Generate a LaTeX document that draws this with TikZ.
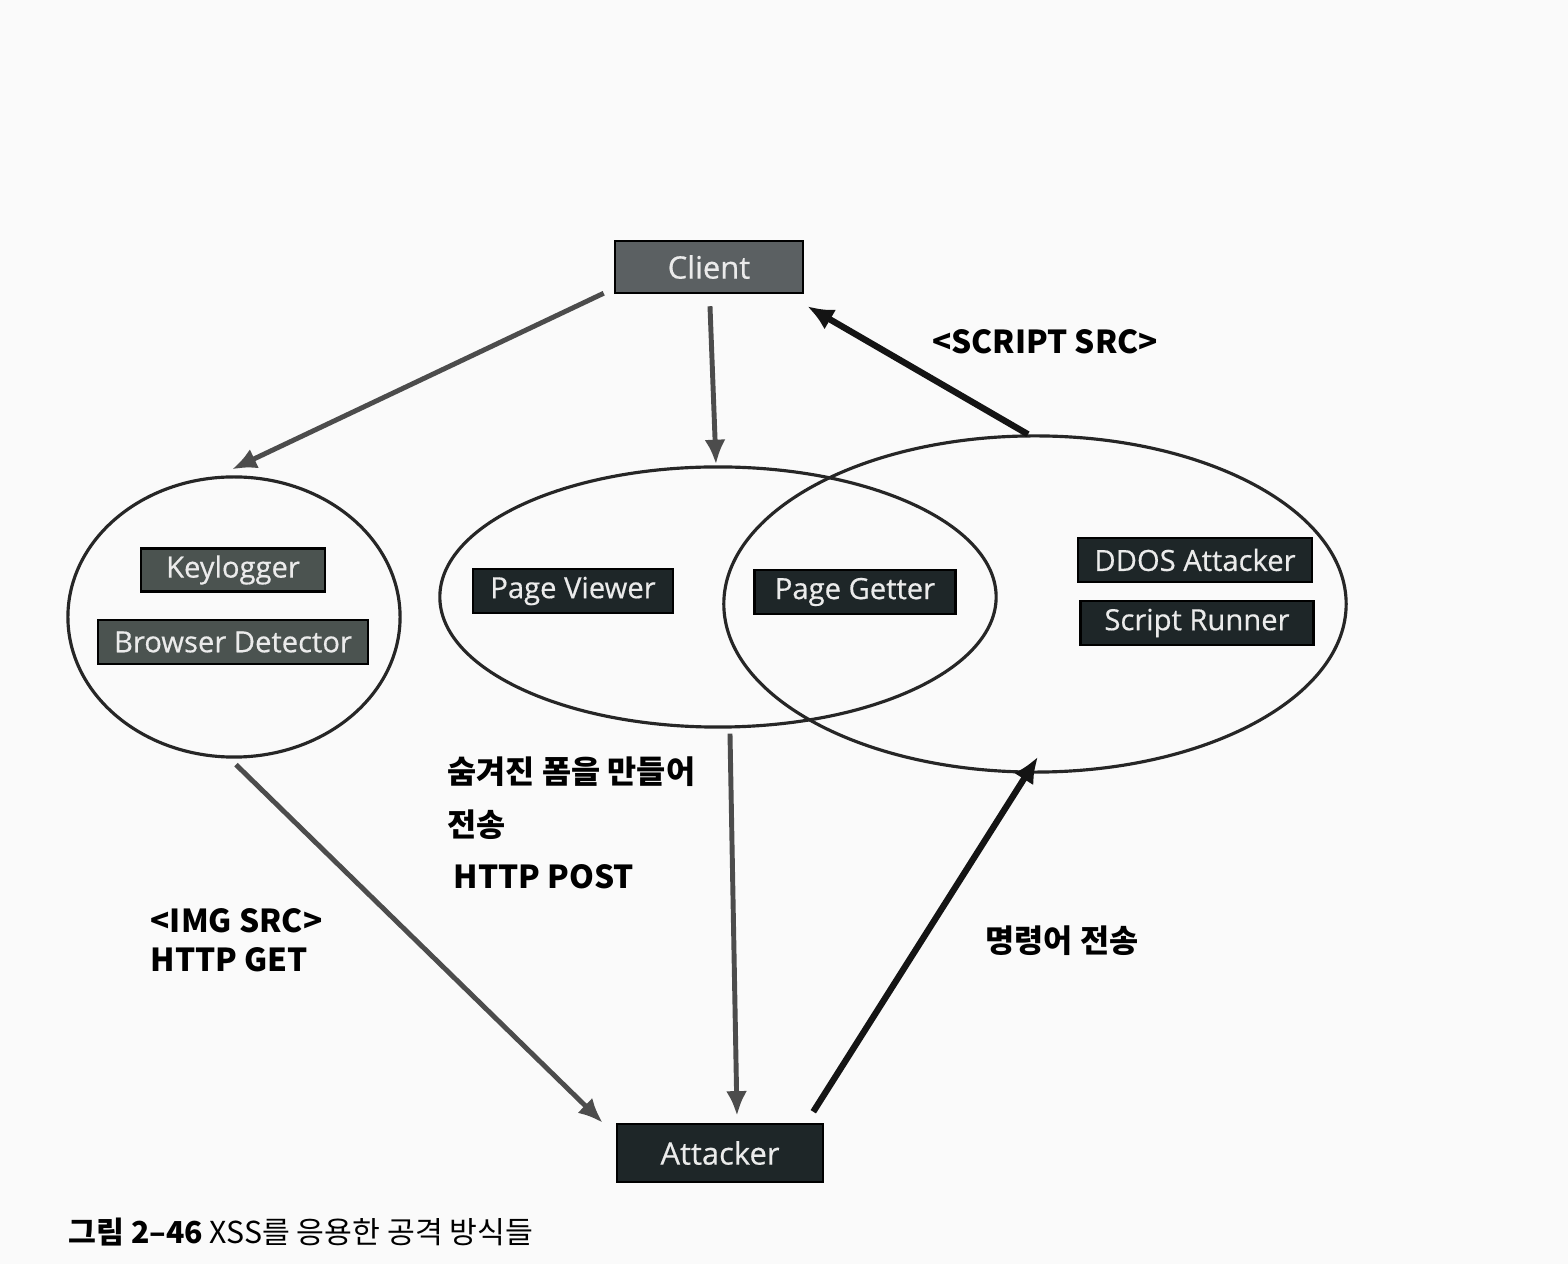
\documentclass[tikz,border=0pt]{standalone}
\usepackage{fontspec}
\setmainfont{Noto Sans CJK KR}
\newfontfamily\boxfont{Open Sans}[FakeBold=0.5]
\usetikzlibrary{arrows.meta,shapes.geometric,calc}
\definecolor{clientgray}{HTML}{5B6062}
\definecolor{modgray}{HTML}{4B5350}
\definecolor{moddark}{HTML}{1E2628}

\begin{document}
\begin{tikzpicture}[x=0.01cm,y=-0.01cm,
    box/.style={draw=black,line width=0.7pt,text=white!92!black,inner sep=0pt,
      font=\boxfont\fontsize{8.3}{10}\selectfont},
    group/.style={ellipse,draw=black!85,line width=0.9pt,inner sep=0pt},
    flow/.style={draw=black!70,line width=1.4pt,-{Latex[length=7pt,width=6pt]}},
    cmd/.style={draw=black!92,line width=1.8pt,-{Latex[length=7.5pt,width=6.5pt]}},
    lbl/.style={font=\bfseries\fontsize{9}{11}\selectfont,inner sep=0pt}]
  \path[use as bounding box,fill=black!2] (0,0) rectangle (1568,1264);

  % Groups
  \node[group,minimum width=3.32cm,minimum height=2.80cm] (keygrp) at (234,617) {};
  \node[group,minimum width=5.56cm,minimum height=2.60cm] (viewgrp) at (718,597) {};
  \node[group,minimum width=6.22cm,minimum height=3.36cm] (rungrp) at (1035,604) {};

  % Boxes
  \node[box,fill=clientgray,minimum width=1.88cm,minimum height=0.52cm,
    font=\boxfont\fontsize{8.8}{10}\selectfont] (client) at (709,267) {Client};
  \node[box,fill=modgray,minimum width=1.84cm,minimum height=0.43cm] (keylog) at (233,570) {Keylogger};
  \node[box,fill=modgray,minimum width=2.70cm,minimum height=0.44cm] (detect) at (233,642) {Browser Detector};
  \node[box,fill=moddark,minimum width=2.00cm,minimum height=0.44cm] (viewer) at (573,591) {Page Viewer};
  \node[box,fill=moddark,minimum width=2.01cm,minimum height=0.44cm] (getter) at (855,592) {Page Getter};
  \node[box,fill=moddark,minimum width=2.34cm,minimum height=0.44cm] (ddos) at (1195,560) {DDOS Attacker};
  \node[box,fill=moddark,minimum width=2.33cm,minimum height=0.44cm] (runner) at (1197,623) {Script Runner};
  \node[box,fill=moddark,minimum width=2.06cm,minimum height=0.58cm,
    font=\boxfont\fontsize{8.8}{10}\selectfont] (attacker) at (720,1153) {Attacker};

  % Connectors
  \draw[flow] ($(client.south west)+(-10,-1)$) -- ($(keygrp.north)+(-2,-6)$);
  \draw[flow] ($(client.south)+(1,12)$) -- ($(viewgrp.north)+(-2,-1)$);
  \draw[cmd] ($(rungrp.north)+(-7,0)$) -- ($(client.south east)+(3,12)$);
  \draw[flow] ($(keygrp.south)+(2,6)$) -- ($(attacker.north west)+(-13,0)$);
  \draw[flow] ($(viewgrp.south)+(12,5)$) -- ($(attacker.north)+(17,-7)$);
  \draw[cmd] ($(attacker.north east)+(-11,-11)$) -- ($(rungrp.south)+(3,-17)$);

  % Labels
  \node[lbl] (scriptlbl) at (1045,342) {<SCRIPT SRC>};
  \node[lbl,anchor=west,align=left] (imglbl) at (150,940) {<IMG SRC>\\HTTP GET};
  \node[lbl,anchor=west,align=left] (postlbl) at (447,823)
    {숨겨진 폼을 만들어\\[4pt]전송\\[4pt]\hspace*{1.7pt}HTTP POST};
  \node[lbl] (cmdlbl) at (1062,941) {명령어 전송};

  % Caption
  \node[anchor=west,inner sep=0pt,font=\fontsize{8.6}{10}\selectfont] (caption) at (68,1232)
    {\textbf{그림 2–46} XSS를 응용한 공격 방식들};
\end{tikzpicture}
\end{document}
